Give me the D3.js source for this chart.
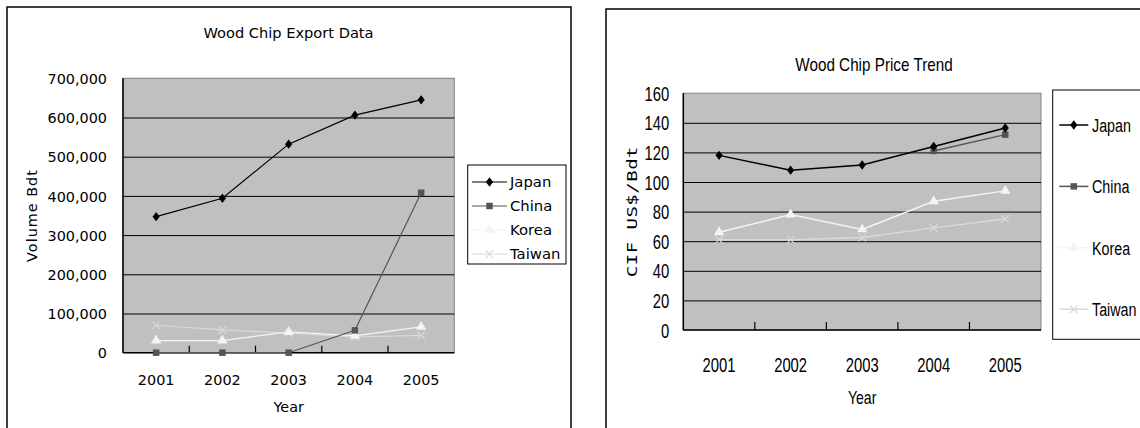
<!DOCTYPE html>
<html><head><meta charset="utf-8">
<script src="https://cdn.jsdelivr.net/npm/d3@7"></script>
<style>
html,body{margin:0;padding:0;background:#fff;}
svg{display:block;}
</style></head>
<body>
<svg id="c" width="1140" height="428"></svg>
<script>
// ---------- DATA ----------
const years = ["2001", "2002", "2003", "2004", "2005"];
const seriesNames = ["Japan", "China", "Korea", "Taiwan"];

// Wood Chip Export Data (Volume Bdt)
const exportJapan  = [347000, 394000, 532000, 606000, 645000];
const exportChina  = [0, 0, 0, 57000, 408000];
const exportKorea  = [31000, 31000, 53000, 43000, 66000];
const exportTaiwan = [70000, 58000, 50000, 40000, 44000];
const exportTicks  = [0, 100000, 200000, 300000, 400000, 500000, 600000, 700000];

// Wood Chip Price Trend (CIF US$/Bdt)
const priceJapan  = [118, 108, 111.5, 124, 136.5];
const priceChina  = [null, null, null, 121, 132];
const priceKorea  = [66, 78, 68, 87, 94];
const priceTaiwan = [61, 61, 62.5, 69, 75];
const priceTicks  = [0, 20, 40, 60, 80, 100, 120, 140, 160];

// ---------- STYLES ----------
const wideDiamond = {
  draw(ctx, size) {
    const r = Math.sqrt(size) / 2;
    ctx.moveTo(0, -r * 1.3);
    ctx.lineTo(r, 0);
    ctx.lineTo(0, r * 1.3);
    ctx.lineTo(-r, 0);
    ctx.closePath();
  }
};
const seriesStyle = {
  Japan:  {color: "#000000", symbol: wideDiamond, size: 52, fill: true},
  China:  {color: "#555555", symbol: d3.symbolSquare,  size: 42, fill: true},
  Korea:  {color: "#f4f4f4", symbol: d3.symbolTriangle, size: 46, fill: true},
  Taiwan: {color: "#d9d9d9", symbol: d3.symbolTimes,   size: 40, fill: false}
};

const svg = d3.select("#c");

function txt(g, s, x, y, str, o) {
  const t = g.append("text")
    .attr("transform", `translate(${x},${y}) ${o.rot ? "scale(" + o.sx + ",1) rotate(-90)" : "scale(" + o.sx + ",1)"}`)
    .attr("font-family", o.family)
    .attr("font-size", o.size)
    .attr("text-anchor", o.anchor || "middle")
    .attr("fill", "#000")
    .text(str);
  if (o.ls) t.attr("letter-spacing", o.ls);
  if (o.dy) t.attr("dy", o.dy);
  return t;
}

function drawChart(cfg) {
  const g = svg.append("g");
  // outer frame
  g.append("rect").attr("x", cfg.frame[0]).attr("y", cfg.frame[1])
    .attr("width", cfg.frame[2]).attr("height", cfg.frame[3])
    .attr("fill", "#fff").attr("stroke", "#000").attr("stroke-width", 1.5);

  const p = cfg.plot; // [x0,y0,x1,y1]
  const x = d3.scaleBand().domain(years).range([p[0], p[2]]).padding(0);
  const y = d3.scaleLinear().domain([0, d3.max(cfg.ticks)]).range([p[3], p[1]]);
  const cx = d => x(d) + x.bandwidth() / 2;

  g.append("rect").attr("x", p[0]).attr("y", p[1]).attr("width", p[2] - p[0]).attr("height", p[3] - p[1])
    .attr("fill", "#c0c0c0").attr("stroke", "#808080").attr("stroke-width", 1);

  // gridlines
  const grid = g.append("g").attr("transform", `translate(${p[0]},0)`)
    .call(d3.axisLeft(y).tickValues(cfg.ticks.filter(v => v > 0 && v < d3.max(cfg.ticks))).tickSize(-(p[2] - p[0])).tickFormat(""));
  grid.select(".domain").remove();
  grid.selectAll("line").attr("stroke", "#000").attr("stroke-width", 1);

  // y axis labels
  const ya = g.append("g").attr("transform", `translate(${p[0]},0)`)
    .call(d3.axisLeft(y).tickValues(cfg.ticks).tickSize(0).tickPadding(0).tickFormat(cfg.fmt));
  ya.select(".domain").remove();
  ya.selectAll("text")
    .attr("font-family", cfg.font.family).attr("font-size", cfg.font.tick)
    .attr("fill", "#000")
    .attr("transform", `scale(${cfg.font.sx},1)`)
    .attr("x", -cfg.yLabelGap / cfg.font.sx)
    .attr("dy", "0.36em");

  // axis lines
  g.append("line").attr("x1", p[0]).attr("x2", p[0]).attr("y1", p[1]).attr("y2", p[3])
    .attr("stroke", "#000").attr("stroke-width", 1.5);
  g.append("line").attr("x1", p[0]).attr("x2", p[2]).attr("y1", p[3]).attr("y2", p[3])
    .attr("stroke", "#000").attr("stroke-width", 1.5);

  // x ticks (inward, at category boundaries)
  g.selectAll(".xt").data(years.slice(1)).enter().append("line")
    .attr("x1", d => x(d)).attr("x2", d => x(d))
    .attr("y1", p[3]).attr("y2", p[3] - cfg.tickLen)
    .attr("stroke", "#000").attr("stroke-width", 1.2);

  // x labels
  years.forEach(yr => {
    txt(g, svg, cx(yr), cfg.xLabelY, yr, {family: cfg.font.family, size: cfg.font.tick, sx: cfg.font.sx});
  });

  // titles
  txt(g, svg, cfg.titlePos[0], cfg.titlePos[1], cfg.title, {family: cfg.font.family, size: cfg.font.title, sx: cfg.font.titleSx});
  txt(g, svg, (p[0] + p[2]) / 2, cfg.xTitleY, "Year", {family: cfg.font.family, size: cfg.font.label, sx: cfg.font.sx});
  txt(g, svg, cfg.yTitleX, (p[1] + p[3]) / 2, cfg.yTitle,
      {family: cfg.font.yFamily || cfg.font.family, size: cfg.font.yLabel, sx: cfg.font.sx, rot: true, ls: cfg.font.yLs});

  // series
  const line = d3.line().defined(d => d[1] != null).x(d => cx(d[0])).y(d => y(d[1]));
  const order = ["Taiwan", "Korea", "China", "Japan"];
  order.forEach(name => {
    const st = seriesStyle[name];
    const pts = years.map((yr, i) => [yr, cfg.data[name][i]]);
    g.append("path").datum(pts).attr("d", line).attr("fill", "none")
      .attr("stroke", st.color).attr("stroke-width", cfg.lineW);
    g.selectAll(null).data(pts.filter(d => d[1] != null)).enter().append("path")
      .attr("transform", d => `translate(${cx(d[0])},${y(d[1])})`)
      .attr("d", d3.symbol().type(st.symbol).size(st.size))
      .attr("fill", st.fill ? st.color : "none")
      .attr("stroke", st.color).attr("stroke-width", st.fill ? 0 : 1.2);
  });

  // legend
  const L = cfg.legend;
  g.append("rect").attr("x", L.box[0]).attr("y", L.box[1]).attr("width", L.box[2]).attr("height", L.box[3])
    .attr("fill", "#fff").attr("stroke", "#000").attr("stroke-width", 1);
  seriesNames.forEach((name, i) => {
    const st = seriesStyle[name];
    const yy = L.y0 + i * L.dy;
    g.append("line").attr("x1", L.lx0).attr("x2", L.lx1).attr("y1", yy).attr("y2", yy)
      .attr("stroke", st.color).attr("stroke-width", cfg.lineW);
    g.append("path").attr("transform", `translate(${(L.lx0 + L.lx1) / 2},${yy})`)
      .attr("d", d3.symbol().type(st.symbol).size(st.size))
      .attr("fill", st.fill ? st.color : "none")
      .attr("stroke", st.color).attr("stroke-width", st.fill ? 0 : 1.2);
    txt(g, svg, L.tx, yy, name, {family: cfg.font.family, size: cfg.font.legend, sx: cfg.font.legendSx, anchor: "start", dy: "0.36em"});
  });
}

drawChart({
  frame: [7, 7, 564, 440],
  plot: [123, 78.3, 454.3, 352.7],
  ticks: exportTicks,
  fmt: d3.format(","),
  yLabelGap: 16,
  tickLen: 7,
  xLabelY: 385,
  xTitleY: 412,
  yTitleX: 37,
  titlePos: [288.5, 38],
  title: "Wood Chip Export Data",
  yTitle: "Volume Bdt",
  lineW: 1.2,
  font: {family: "DejaVu Sans", tick: 14.4, label: 14.4, title: 14.6, yLabel: 14.4, legend: 14.4,
         sx: 1, titleSx: 1, legendSx: 1.03, yLs: 1},
  data: {Japan: exportJapan, China: exportChina, Korea: exportKorea, Taiwan: exportTaiwan},
  legend: {box: [467.7, 165, 98.3, 99], y0: 182, dy: 24, lx0: 472, lx1: 507, tx: 510}
});

drawChart({
  frame: [606, 9, 560, 440],
  plot: [683.3, 93.2, 1041, 330],
  ticks: priceTicks,
  fmt: d3.format("d"),
  yLabelGap: 14,
  tickLen: 8,
  xLabelY: 371.5,
  xTitleY: 404,
  yTitleX: 637,
  titlePos: [874, 71],
  title: "Wood Chip Price Trend",
  yTitle: "CIF US$/Bdt",
  lineW: 1.5,
  font: {family: "Liberation Sans", yFamily: "DejaVu Sans Mono", tick: 19.5, label: 18.6, title: 18.6, yLabel: 19, legend: 18.6,
         sx: 0.76, titleSx: 0.82, legendSx: 0.77, yLs: 0.5},
  data: {Japan: priceJapan, China: priceChina, Korea: priceKorea, Taiwan: priceTaiwan},
  legend: {box: [1052.7, 90, 100, 249.3], y0: 125, dy: 61.4, lx0: 1059.3, lx1: 1088.3, tx: 1092}
});
</script>
</body></html>
